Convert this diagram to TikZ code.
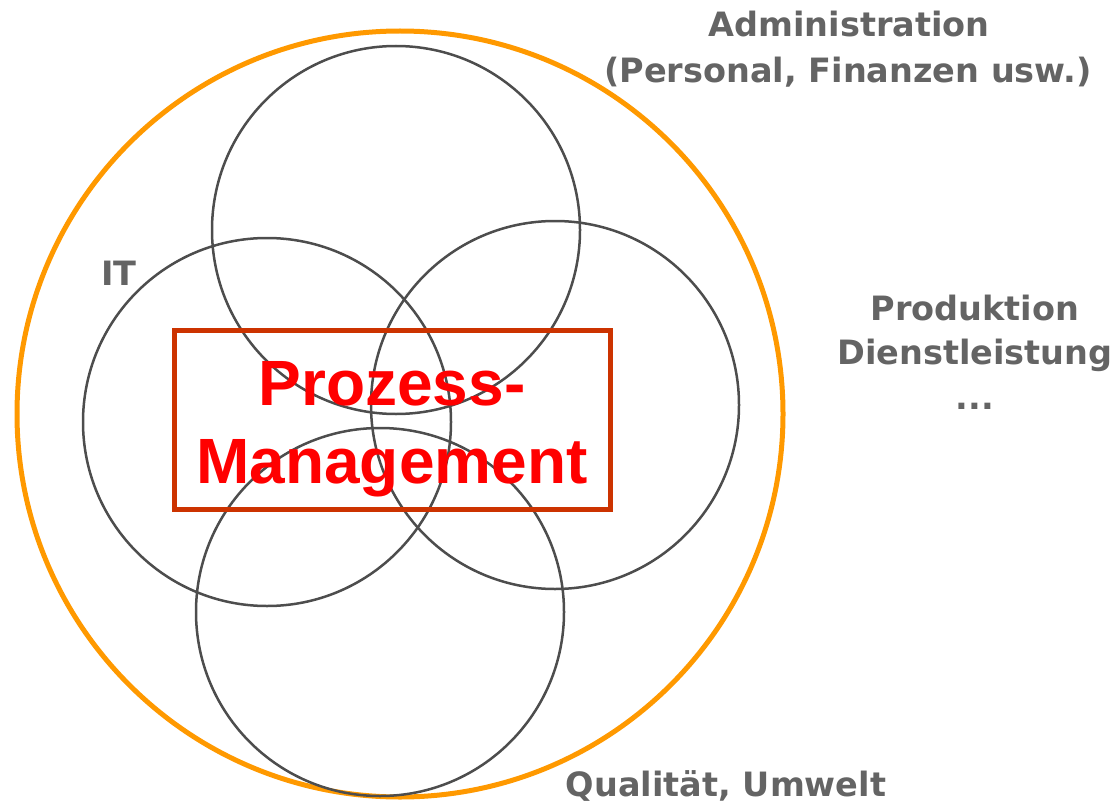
\documentclass[tikz,border=0pt]{standalone}
\usepackage{fontspec}
\setmainfont{DejaVu Sans}
\newfontfamily\arialfont{Liberation Sans}
\definecolor{labelgray}{HTML}{646464}
\definecolor{ringgray}{HTML}{4D4D4D}
\definecolor{frameorange}{HTML}{FF9900}
\definecolor{boxred}{HTML}{CC3300}
\tikzset{
	ring/.style={circle, draw=ringgray, line width=2.5pt, inner sep=0pt, minimum size=368pt},
	area/.style={anchor=base, inner sep=0pt, text=labelgray, font=\bfseries\fontsize{33.5}{45}\selectfont},
	title/.style={anchor=base, inner sep=0pt, text=red, font=\arialfont\bfseries\fontsize{64}{78}\selectfont},
}

\begin{document}
\begin{tikzpicture}[x=1pt,y=-1pt]
\useasboundingbox (0,0) rectangle (1115,805);
% outer frame
\node[circle, draw=frameorange, line width=5pt, inner sep=0pt, minimum size=766pt] (frame) at (400,414) {};
% the four areas
\node[ring] (adm) at (396,230) {};
\node[ring] (it) at (267,422) {};
\node[ring] (prod) at (555,405) {};
\node[ring] (qual) at (380,612) {};
% process management in the middle
\node[draw=boxred, line width=5pt, inner sep=0pt, minimum width=436pt, minimum height=179pt] (pm) at (392.5,420) {};
\node[title] (pm1) at (392,405) {Prozess-};
\node[title] (pm2) at (392,483) {Management};
% labels
\node[area] (admlabel) at (849,37) {Administration};
\node[area] (admsub) at (848,83) {(Personal, Finanzen usw.)};
\node[area] (itlabel) at (119,285) {IT};
\node[area] (prodlabel) at (975,320) {Produktion};
\node[area] (dienst) at (975,364) {Dienstleistung};
\node[area] (more) at (975,409) {...};
\node[area] (quallabel) at (726,796) {Qualität, Umwelt};
\end{tikzpicture}
\end{document}
